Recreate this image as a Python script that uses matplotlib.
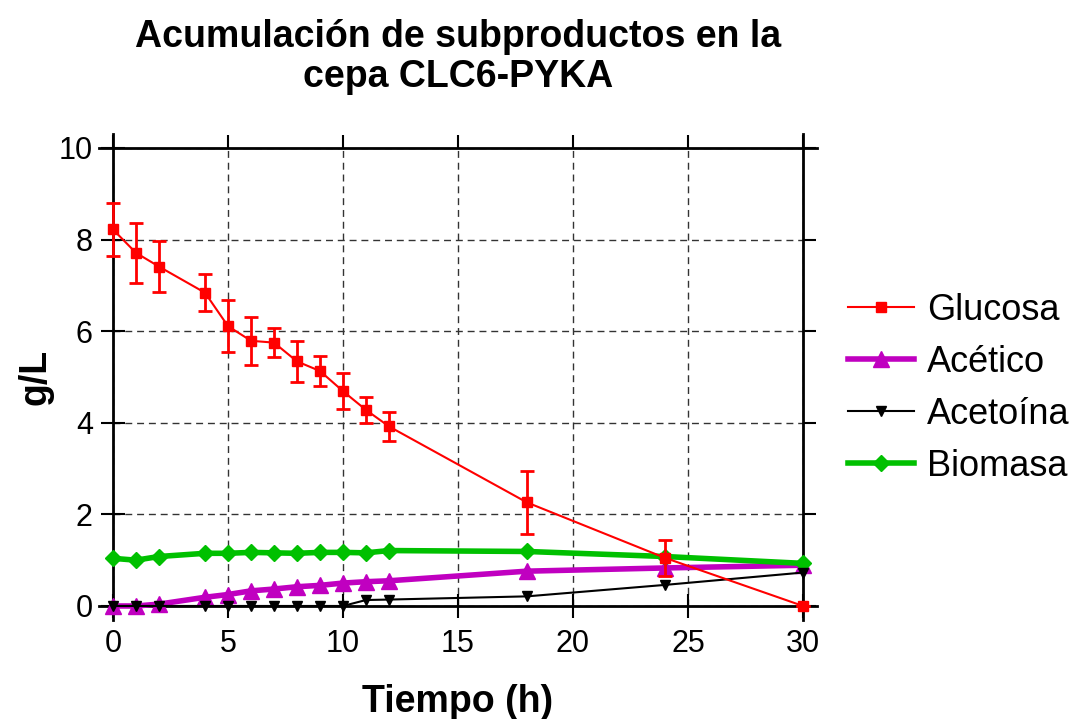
import matplotlib
matplotlib.use('Agg')
import matplotlib.pyplot as plt
from matplotlib.lines import Line2D
import numpy as np

plt.rcParams['font.family'] = ['Liberation Sans', 'DejaVu Sans']

##### data
tiempo = [0, 1, 2, 4, 5, 6, 7, 8, 9, 10, 11, 12, 18, 24, 30]
glucosa = [8.22, 7.71, 7.41, 6.84, 6.11, 5.79, 5.75, 5.34, 5.13, 4.69, 4.28, 3.92, 2.26, 1.05, 0.0]
glucosa_err = [0.58, 0.65, 0.55, 0.40, 0.57, 0.53, 0.31, 0.44, 0.33, 0.40, 0.28, 0.31, 0.69, 0.39, 0.0]
acetico = [0.0, 0.0, 0.04, 0.19, 0.25, 0.33, 0.37, 0.42, 0.45, 0.50, 0.53, 0.55, 0.76, 0.83, 0.89]
acetoina = [0.0, 0.0, 0.0, 0.0, 0.0, 0.0, 0.0, 0.0, 0.0, 0.0, 0.13, 0.14, 0.21, 0.46, 0.73]
biomasa = [1.04, 1.00, 1.08, 1.15, 1.15, 1.17, 1.16, 1.15, 1.17, 1.17, 1.16, 1.21, 1.19, 1.08, 0.93]

x_ticks = [0, 5, 10, 15, 20, 25, 30]
y_ticks = [0, 2, 4, 6, 8, 10]

fig = plt.figure(figsize=(10.77, 7.19), dpi=100)
ax = fig.add_axes([0.1049, 0.1572, 0.6407, 0.6370])

ax.errorbar(tiempo, glucosa, yerr=glucosa_err, color='#ff0000', lw=1.5,
            marker='s', ms=7, elinewidth=2, capsize=5, capthick=2,
            clip_on=False, zorder=5)
ax.plot(tiempo, acetico, color='#c000c0', lw=4, marker='^', ms=11,
        clip_on=False, zorder=3)
ax.plot(tiempo, acetoina, color='black', lw=1.5, marker='v', ms=7,
        clip_on=False, zorder=4)
ax.plot(tiempo, biomasa, color='#00c000', lw=4, marker='D', ms=8,
        clip_on=False, zorder=3)

ax.set_xlim(0, 30)
ax.set_ylim(0, 10)
ax.set_xticks(x_ticks)
ax.set_yticks(y_ticks)
ax.tick_params(direction='inout', length=17, width=1.5, labelsize=22, pad=6)
ax.tick_params(axis='x', pad=8)
ax.grid(True, color='#333333', linestyle=(0, (5, 3.5)), lw=1)

# top / right ticks point outward only
top = ax.secondary_xaxis('top')
top.set_xticks(x_ticks)
top.tick_params(direction='out', length=9.5, width=1.5, labeltop=False)
right = ax.secondary_yaxis('right')
right.set_yticks(y_ticks)
right.tick_params(direction='out', length=9.5, width=1.5, labelright=False)
for a in (top, right):
    for s in a.spines.values():
        s.set_visible(False)

# frame lines running a bit past the corners
for s in ax.spines.values():
    s.set_visible(False)
ex, ey = 0.0203, 0.0306
ax.plot([-ex, 1 + ex], [0, 0], transform=ax.transAxes, color='black', lw=2, clip_on=False, zorder=2)
ax.plot([-ex, 1 + ex], [1, 1], transform=ax.transAxes, color='black', lw=2, clip_on=False, zorder=2)
ax.plot([0, 0], [-ey, 1 + ey], transform=ax.transAxes, color='black', lw=2, clip_on=False, zorder=2)
ax.plot([1, 1], [-ey, 1 + ey], transform=ax.transAxes, color='black', lw=2, clip_on=False, zorder=2)

ax.set_xlabel('Tiempo (h)', fontsize=27, fontweight='bold', labelpad=18)
ax.set_ylabel('g/L', fontsize=27, fontweight='bold', labelpad=4)
ax.set_title('Acumulación de subproductos en la\ncepa CLC6-PYKA', fontsize=27,
             fontweight='bold', pad=44, linespacing=1.15)

handles = [
    Line2D([], [], color='#ff0000', lw=1.5, marker='s', ms=7),
    Line2D([], [], color='#c000c0', lw=4, marker='^', ms=11),
    Line2D([], [], color='black', lw=1.5, marker='v', ms=7),
    Line2D([], [], color='#00c000', lw=4, marker='D', ms=8),
]
labels = ['Glucosa', 'Acético', 'Acetoína', 'Biomasa']
fig.legend(handles, labels, loc='center left', bbox_to_anchor=(0.787, 0.46),
           frameon=False, fontsize=26, handlelength=1.85, handletextpad=0.35,
           labelspacing=0.475, borderpad=0, borderaxespad=0)

fig.savefig('out.png', dpi=100)
